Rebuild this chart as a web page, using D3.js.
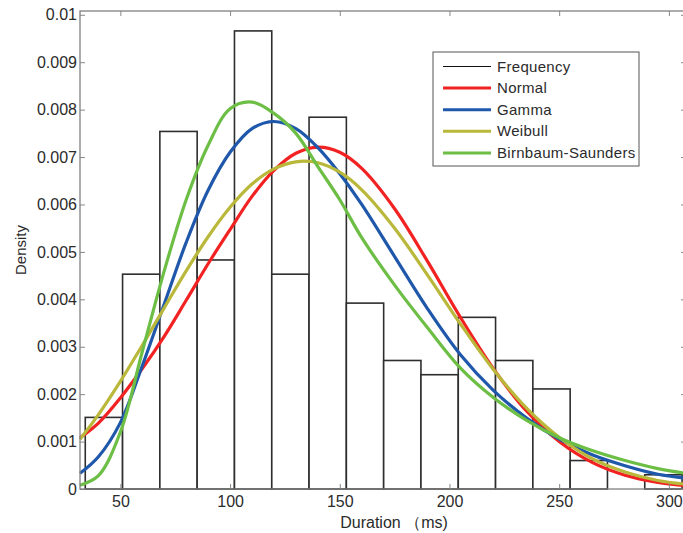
<!DOCTYPE html>
<html>
<head>
<meta charset="utf-8">
<script src="https://cdn.jsdelivr.net/npm/d3@7"></script>
<style>
    body { margin: 0; background: #fff; }
    text { font-family: "Liberation Sans", Arial, sans-serif; fill: #2b2b2b; }
</style>
</head>
<body>
<div id="container"></div>
<script>
const WIDTH = 683;
const HEIGHT = 533;
const LEFT = 80, TOP = 11, RIGHT = 686, BOTTOM = 489;

// histogram (bin edges in ms, density per bin)
var binEdges = [34, 51, 68, 85, 102, 119, 136, 153, 170, 187, 204, 221, 238, 255, 272, 289, 306];
var binDensity = [0.00151, 0.00453, 0.00754, 0.00483, 0.00966, 0.00453, 0.00784, 0.00392,
    0.00271, 0.00241, 0.00362, 0.00271, 0.00211, 0.00060, 0, 0.00030];

// fitted curves at these durations
var curveX = [31.6, 40, 50, 60, 70, 80, 90, 100, 110, 120, 130, 140, 150, 160, 175, 190, 205, 220, 235, 250, 265, 280, 295, 307.8];
var normalY = [0.00108, 0.00139, 0.00192, 0.00254, 0.00322, 0.00398, 0.00475, 0.00547, 0.00617, 0.00672, 0.00708, 0.00721,
    0.0071, 0.00676, 0.00591, 0.0048, 0.00362, 0.00254, 0.00165, 0.001, 0.00056, 0.00029, 0.00014, 0.00007];
var gammaY = [0.00033, 0.00068, 0.0014, 0.0026, 0.0039, 0.0052, 0.0063, 0.0071, 0.0076, 0.00775, 0.0076, 0.0072,
    0.00665, 0.006, 0.0049, 0.0038, 0.00283, 0.00208, 0.0015, 0.00105, 0.00072, 0.00049, 0.00031, 0.00023];
var weibullY = [0.00105, 0.00157, 0.00227, 0.00303, 0.00382, 0.0046, 0.00532, 0.00594, 0.00643, 0.00675, 0.0069, 0.00688,
    0.00668, 0.00631, 0.0055, 0.00451, 0.00348, 0.00252, 0.00171, 0.00109, 0.00064, 0.00036, 0.00018, 0.0001];
var bsY = [0.00008, 0.00028, 0.0012, 0.0029, 0.0046, 0.0061, 0.00725, 0.00802, 0.00816, 0.00792, 0.0075, 0.0068,
    0.0061, 0.0053, 0.0043, 0.0034, 0.00255, 0.00193, 0.00145, 0.00108, 0.00081, 0.0006, 0.00043, 0.00033];

var xTicks = [50, 100, 150, 200, 250, 300];
var yTicks = [0, 0.001, 0.002, 0.003, 0.004, 0.005, 0.006, 0.007, 0.008, 0.009, 0.01];
var yTickLabels = ["0", "0.001", "0.002", "0.003", "0.004", "0.005", "0.006", "0.007", "0.008", "0.009", "0.01"];

var seriesNames = ["Normal", "Gamma", "Weibull", "Birnbaum-Saunders"];
var seriesColors = ["#f22222", "#1f58ab", "#b9b83a", "#6cbe45"];

var drawChart = function () {
    var svg = d3.select("#container").append("svg")
        .attr("width", WIDTH)
        .attr("height", HEIGHT);

    var x = d3.scaleLinear().domain([31.6, 307.8]).range([LEFT, RIGHT]);
    var y = d3.scaleLinear().domain([0, 0.01008]).range([BOTTOM, TOP]);

    // bars
    svg.append("g").selectAll("rect")
        .data(binDensity)
        .enter().append("rect")
        .attr("x", function (d, i) { return x(binEdges[i]); })
        .attr("y", function (d) { return y(d); })
        .attr("width", function (d, i) { return x(binEdges[i + 1]) - x(binEdges[i]); })
        .attr("height", function (d) { return y(0) - y(d); })
        .attr("fill", "#fff")
        .attr("stroke", "#2e2e2e")
        .attr("stroke-width", 1.6);

    // curves
    var line = d3.line()
        .x(function (d) { return x(d[0]); })
        .y(function (d) { return y(d[1]); })
        .curve(d3.curveCatmullRom.alpha(0.5));

    var allY = [normalY, gammaY, weibullY, bsY];
    allY.forEach(function (ys, k) {
        svg.append("path")
            .attr("d", line(curveX.map(function (v, i) { return [v, ys[i]]; })))
            .attr("fill", "none")
            .attr("stroke", seriesColors[k])
            .attr("stroke-width", 3.2);
    });

    // axes with inward ticks
    var bottom = svg.append("g")
        .attr("transform", "translate(0," + BOTTOM + ")")
        .call(d3.axisBottom(x).tickValues(xTicks).tickSizeInner(-5).tickSizeOuter(0).tickPadding(7));
    var top = svg.append("g")
        .attr("transform", "translate(0," + TOP + ")")
        .call(d3.axisTop(x).tickValues(xTicks).tickSizeInner(-5).tickSizeOuter(0).tickFormat(""));
    var left = svg.append("g")
        .attr("transform", "translate(" + LEFT + ",0)")
        .call(d3.axisLeft(y).tickValues(yTicks).tickSizeInner(-5).tickSizeOuter(0).tickPadding(3)
            .tickFormat(function (d, i) { return yTickLabels[i]; }));
    var right = svg.append("g")
        .attr("transform", "translate(" + RIGHT + ",0)")
        .call(d3.axisRight(y).tickValues(yTicks).tickSizeInner(-5).tickSizeOuter(0).tickFormat(""));

    [bottom, top, left, right].forEach(function (g) {
        g.select(".domain").remove();
        g.selectAll("line").attr("stroke", "#888");
        g.selectAll("text").attr("font-size", 16).attr("fill", "#2b2b2b")
            .attr("font-family", "Liberation Sans, Arial, sans-serif");
    });

    svg.append("rect")
        .attr("x", LEFT).attr("y", TOP)
        .attr("width", RIGHT - LEFT).attr("height", BOTTOM - TOP)
        .attr("fill", "none")
        .attr("stroke", "#808080")
        .attr("stroke-width", 1.3);

    // axis titles
    svg.append("text")
        .attr("x", 394).attr("y", 528)
        .attr("text-anchor", "middle")
        .attr("font-size", 16)
        .text("Duration （ms)");
    svg.append("text")
        .attr("transform", "translate(26,250) rotate(-90)")
        .attr("text-anchor", "middle")
        .attr("font-size", 15)
        .text("Density");

    // legend
    var lg = svg.append("g").attr("transform", "translate(433,52)");
    lg.append("rect")
        .attr("width", 206).attr("height", 114)
        .attr("fill", "#fff")
        .attr("stroke", "#555")
        .attr("stroke-width", 1);
    var names = ["Frequency"].concat(seriesNames);
    var colors = ["#111"].concat(seriesColors);
    names.forEach(function (name, i) {
        var ry = 14.5 + i * 21.6;
        lg.append("line")
            .attr("x1", 10).attr("x2", 58)
            .attr("y1", ry).attr("y2", ry)
            .attr("stroke", colors[i])
            .attr("stroke-width", i === 0 ? 1.2 : 3);
        lg.append("text")
            .attr("x", 64).attr("y", ry + 5)
            .attr("font-size", 15)
            .attr("letter-spacing", 0.3)
            .text(name);
    });
};

window.onload = drawChart;
</script>
</body>
</html>
